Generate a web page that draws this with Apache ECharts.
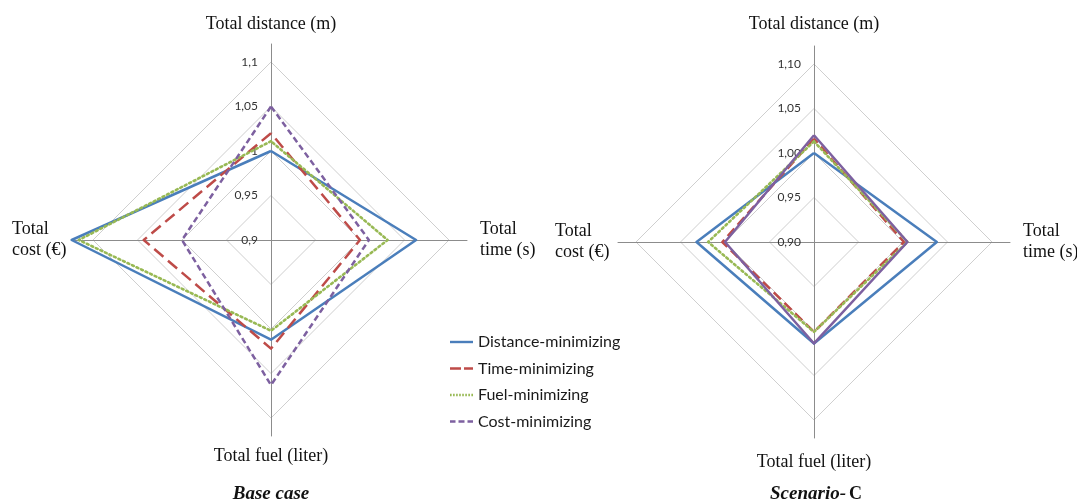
<!DOCTYPE html>
<html>
<head>
<meta charset="utf-8">
<script src="https://cdn.jsdelivr.net/npm/echarts@6/dist/echarts.min.js"></script>
<style>html,body{margin:0;padding:0;background:#fff}#c{width:1077px;height:503px}</style>
</head>
<body>
<div id="c"></div>
<script>
// Indicator order as ECharts lays them out (counter-clockwise from top)
const indicators = ['Total distance (m)', 'Total\ncost (€)', 'Total fuel (liter)', 'Total\ntime (s)'];
const seriesNames = ['Distance-minimizing', 'Time-minimizing', 'Fuel-minimizing', 'Cost-minimizing'];
const axisMin = 0.9, axisMax = 1.1;
const leftTicks = ['0,9', '0,95', '1', '1,05', '1,1'];
const rightTicks = ['0,90', '0,95', '1,00', '1,05', '1,10'];

// Base case: [distance, cost, fuel, time]
const baseDistance = [1.000, 1.124, 1.012, 1.063];
const baseTime     = [1.020, 1.043, 1.022, 1.000];
const baseFuel     = [1.011, 1.116, 1.002, 1.031];
const baseCost     = [1.050, 1.000, 1.063, 1.010];
// Scenario C
const scDistance = [1.000, 1.032, 1.014, 1.038];
const scTime     = [1.016, 1.003, 1.001, 1.001];
const scFuel     = [1.013, 1.019, 1.001, 1.005];
const scCost     = [1.020, 1.000, 1.014, 1.005];

const colors = ['#4A7EBB', '#BE4B48', '#98B954', '#7D60A0'];
const serif = '"Liberation Serif", "Times New Roman", serif';
const sans = 'Lato, "Open Sans", sans-serif';

function gridRadar(center, ticks) {
  return {
    center: center, radius: 178, startAngle: 90, shape: 'polygon', splitNumber: 4,
    indicator: indicators.map((n, i) => {
      const o = { name: n, min: axisMin, max: axisMax };
      if (i === 0) {
        o.axisLabel = {
          show: true, color: '#333', fontFamily: sans, fontSize: 12, margin: 13,
          formatter: v => ticks[Math.round((v - axisMin) / 0.05)]
        };
      }
      return o;
    }),
    axisName: { show: false },
    axisLine: { show: false },
    axisTick: { show: false },
    axisLabel: { show: false },
    splitLine: { lineStyle: { color: '#CFCFCF', width: 1 } },
    splitArea: { show: false }
  };
}
function axisRadar(center, topPad, bottomPad) {
  const base = { fontFamily: serif, fontSize: 18, color: '#111' };
  return {
    center: center, radius: 196, startAngle: 90, shape: 'polygon', splitNumber: 4,
    indicator: indicators.map(n => ({ name: n, min: axisMin, max: axisMax })),
    nameGap: 1,
    axisName: {
      color: '#111', fontFamily: serif, fontSize: 18, lineHeight: 21,
      formatter: function (name) {
        if (name.indexOf('\n') >= 0) {
          const parts = name.split('\n');
          if (name.indexOf('time') >= 0) return parts.map(p => '{r|' + p + '}').join('\n');
          return parts.map(p => '{l|' + p + '}').join('\n');
        }
        if (name.indexOf('distance') >= 0) return '{t|' + name + '}';
        return '{b|' + name + '}';
      },
      rich: {
        r: Object.assign({ width: 62, align: 'left', lineHeight: 21, padding: [0, 0, 0, 12] }, base),
        l: Object.assign({ width: 62, align: 'left', lineHeight: 21 }, base),
        t: Object.assign({ padding: [0, 0, topPad, 0] }, base),
        b: Object.assign({ padding: [bottomPad, 0, 0, 0] }, base)
      }
    },
    axisLine: { lineStyle: { color: '#8C8C8C', width: 1 } },
    axisTick: { show: false },
    axisLabel: { show: false },
    splitLine: { show: false },
    splitArea: { show: false }
  };
}

function mkSeries(radarIndex, data, styles) {
  return data.map((vals, i) => ({
    type: 'radar', radarIndex: radarIndex, name: seriesNames[i], symbol: 'none', silent: true,
    z: 2 + i,
    lineStyle: Object.assign({ color: colors[i], width: 2.5 }, styles[i]),
    itemStyle: { color: colors[i] },
    data: [{ value: vals, name: seriesNames[i] }]
  }));
}

const leftStyles = [
  { type: 'solid' },
  { type: [12, 6] },
  { type: [2, 3], cap: 'round', width: 2.6 },
  { type: [6, 3.5] }
];
const rightStyles = [
  { type: 'solid' },
  { type: [10, 5] },
  { type: [2, 3], cap: 'round', width: 2.6 },
  { type: 'solid' }
];

function dots() {
  let p = 'path://';
  for (let x = 0; x < 23; x += 3) p += 'M' + x + ',0h1.6v2.4h-1.6z';
  return p;
}
const legendIcons = [
  'path://M0,0h23v2.4h-23z',
  'path://M0,0h11v2.4h-11zM14,0h9v2.4h-9z',
  dots(),
  'path://M0,0h5.5v2.4h-5.5zM8.5,0h6v2.4h-6zM17.5,0h5.5v2.4h-5.5z'
];

const chart = echarts.init(document.getElementById('c'), null, { renderer: 'canvas' });
chart.setOption({
  backgroundColor: '#fff',
  animation: false,
  color: colors,
  title: [
    { text: 'Base case', left: 271, top: 485, textAlign: 'center', padding: 0,
      textStyle: { fontFamily: serif, fontSize: 19, fontWeight: 'bold', fontStyle: 'italic', color: '#111' } },
    { text: '{i|Scenario-}{n|C}', left: 816, top: 485, textAlign: 'center', padding: 0,
      textStyle: { rich: {
        i: { fontFamily: serif, fontSize: 19, fontWeight: 'bold', fontStyle: 'italic', color: '#111', padding: [0, 3, 0, 0] },
        n: { fontFamily: serif, fontSize: 18, fontWeight: 'bold', color: '#111' } } } }
  ],
  legend: {
    orient: 'vertical', left: 450, top: 334, padding: 0, itemWidth: 23, itemHeight: 14, itemGap: 10.5,
    selectedMode: false,
    textStyle: { fontFamily: sans, fontSize: 16, lineHeight: 16, color: '#1a1a1a' },
    data: seriesNames.map((n, i) => ({ name: n, icon: legendIcons[i], itemStyle: { color: colors[i] } }))
  },
  radar: [
    gridRadar([271, 240], leftTicks),
    axisRadar([271, 240], 16, 18),
    gridRadar([814, 242], rightTicks),
    axisRadar([814, 242], 21, 26)
  ],
  series: [].concat(
    mkSeries(0, [baseDistance, baseTime, baseFuel, baseCost], leftStyles),
    mkSeries(2, [scDistance, scTime, scFuel, scCost], rightStyles)
  )
});
</script>
</body>
</html>
